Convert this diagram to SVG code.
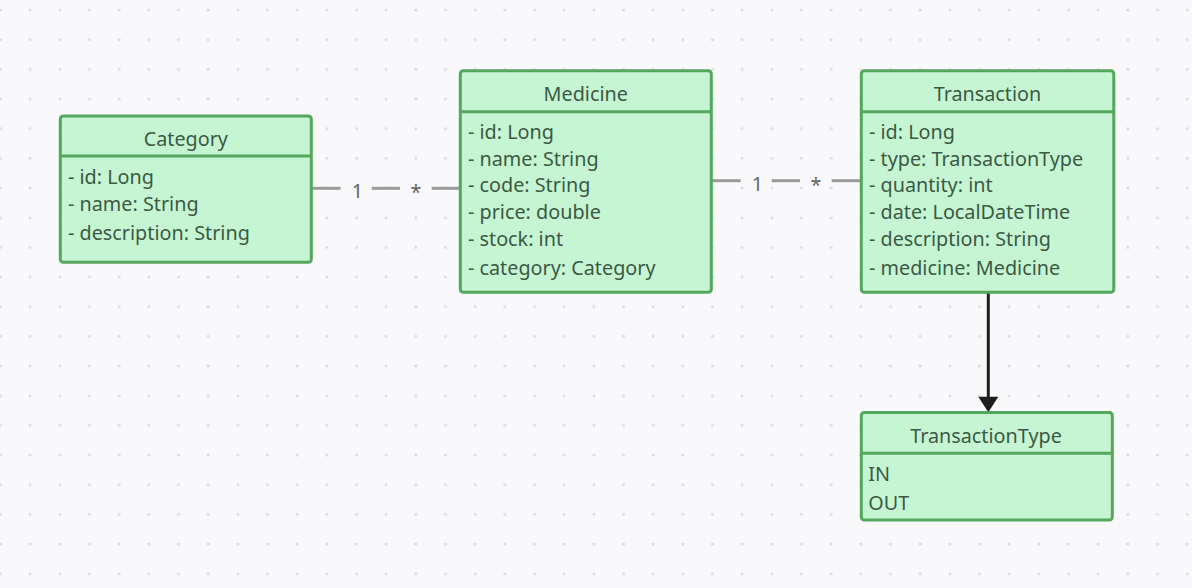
<svg xmlns="http://www.w3.org/2000/svg" width="1192" height="588" viewBox="0 0 1192 588">
  <defs>
    <pattern id="dots" x="-14.33" y="-4.83" width="29.667" height="29.667" patternUnits="userSpaceOnUse">
      <circle cx="14.83" cy="14.83" r="1.6" fill="#dcdce1"/>
    </pattern>
    <style>
      .box { fill: #c6f5d3; stroke: #54a75c; stroke-width: 3; }
      .div { stroke: #54a75c; stroke-width: 3; }
      .t { font-family: "Noto Sans", "Open Sans", sans-serif; font-size: 19.8px; fill: #3a5a43; }
      .title { text-anchor: middle; }
      .conn { stroke: #9a9a9a; stroke-width: 3; fill: none; }
      .lbl { font-family: "Noto Sans", "Open Sans", sans-serif; font-size: 19.8px; fill: #666666; text-anchor: middle; }
    </style>
  </defs>
  <rect width="1192" height="588" fill="#f9f9fb"/>
  <rect width="1192" height="588" fill="url(#dots)"/>

  <g id="connectors">
    <line class="conn" x1="312" y1="188.3" x2="340.5" y2="188.3"/>
    <line class="conn" x1="371.7" y1="188.3" x2="400" y2="188.3"/>
    <line class="conn" x1="431.7" y1="188.3" x2="459" y2="188.3"/>
    <text class="lbl" x="357.3" y="198.3">1</text>
    <text class="lbl" x="416" y="199">*</text>

    <line class="conn" x1="712" y1="180.7" x2="740.7" y2="180.7"/>
    <line class="conn" x1="771.7" y1="180.7" x2="800" y2="180.7"/>
    <line class="conn" x1="831.7" y1="180.7" x2="860" y2="180.7"/>
    <text class="lbl" x="757.3" y="191">1</text>
    <text class="lbl" x="816" y="191.5">*</text>

    <line x1="988.3" y1="293" x2="988.3" y2="399" stroke="#1e1e1e" stroke-width="3"/>
    <polygon points="978.3,396.7 998.3,396.7 988.3,412.3" fill="#1e1e1e"/>
  </g>

  <g id="category">
    <rect class="box" x="60.3" y="116" width="251" height="146.3" rx="3"/>
    <line class="div" x1="60.3" y1="156" x2="311.3" y2="156"/>
    <text class="t title" x="185.8" y="145.7">Category</text>
    <text class="t" x="68" y="184">- id: Long</text>
    <text class="t" x="68" y="210.7">- name: String</text>
    <text class="t" x="68" y="240">- description: String</text>
  </g>

  <g id="medicine">
    <rect class="box" x="460.3" y="70.8" width="251" height="221.5" rx="3"/>
    <line class="div" x1="460.3" y1="111.7" x2="711.3" y2="111.7"/>
    <text class="t title" x="585.8" y="100.7">Medicine</text>
    <text class="t" x="468" y="139">- id: Long</text>
    <text class="t" x="468" y="165.7">- name: String</text>
    <text class="t" x="468" y="192.3">- code: String</text>
    <text class="t" x="468" y="219">- price: double</text>
    <text class="t" x="468" y="245.7">- stock: int</text>
    <text class="t" x="468" y="275">- category: Category</text>
  </g>

  <g id="transaction">
    <rect class="box" x="861.3" y="70.8" width="252.5" height="221.5" rx="3"/>
    <line class="div" x1="861.3" y1="111.7" x2="1113.8" y2="111.7"/>
    <text class="t title" x="987.5" y="100.7">Transaction</text>
    <text class="t" x="869" y="139">- id: Long</text>
    <text class="t" x="869" y="165.7">- type: TransactionType</text>
    <text class="t" x="869" y="192.3">- quantity: int</text>
    <text class="t" x="869" y="219">- date: LocalDateTime</text>
    <text class="t" x="869" y="245.7">- description: String</text>
    <text class="t" x="869" y="275">- medicine: Medicine</text>
  </g>

  <g id="transactiontype">
    <rect class="box" x="861.3" y="412.5" width="251" height="107.5" rx="3"/>
    <line class="div" x1="861.3" y1="453.3" x2="1112.3" y2="453.3"/>
    <text class="t title" x="986" y="442.7">TransactionType</text>
    <text class="t" x="868.3" y="480.7">IN</text>
    <text class="t" x="868.3" y="510">OUT</text>
  </g>
</svg>
